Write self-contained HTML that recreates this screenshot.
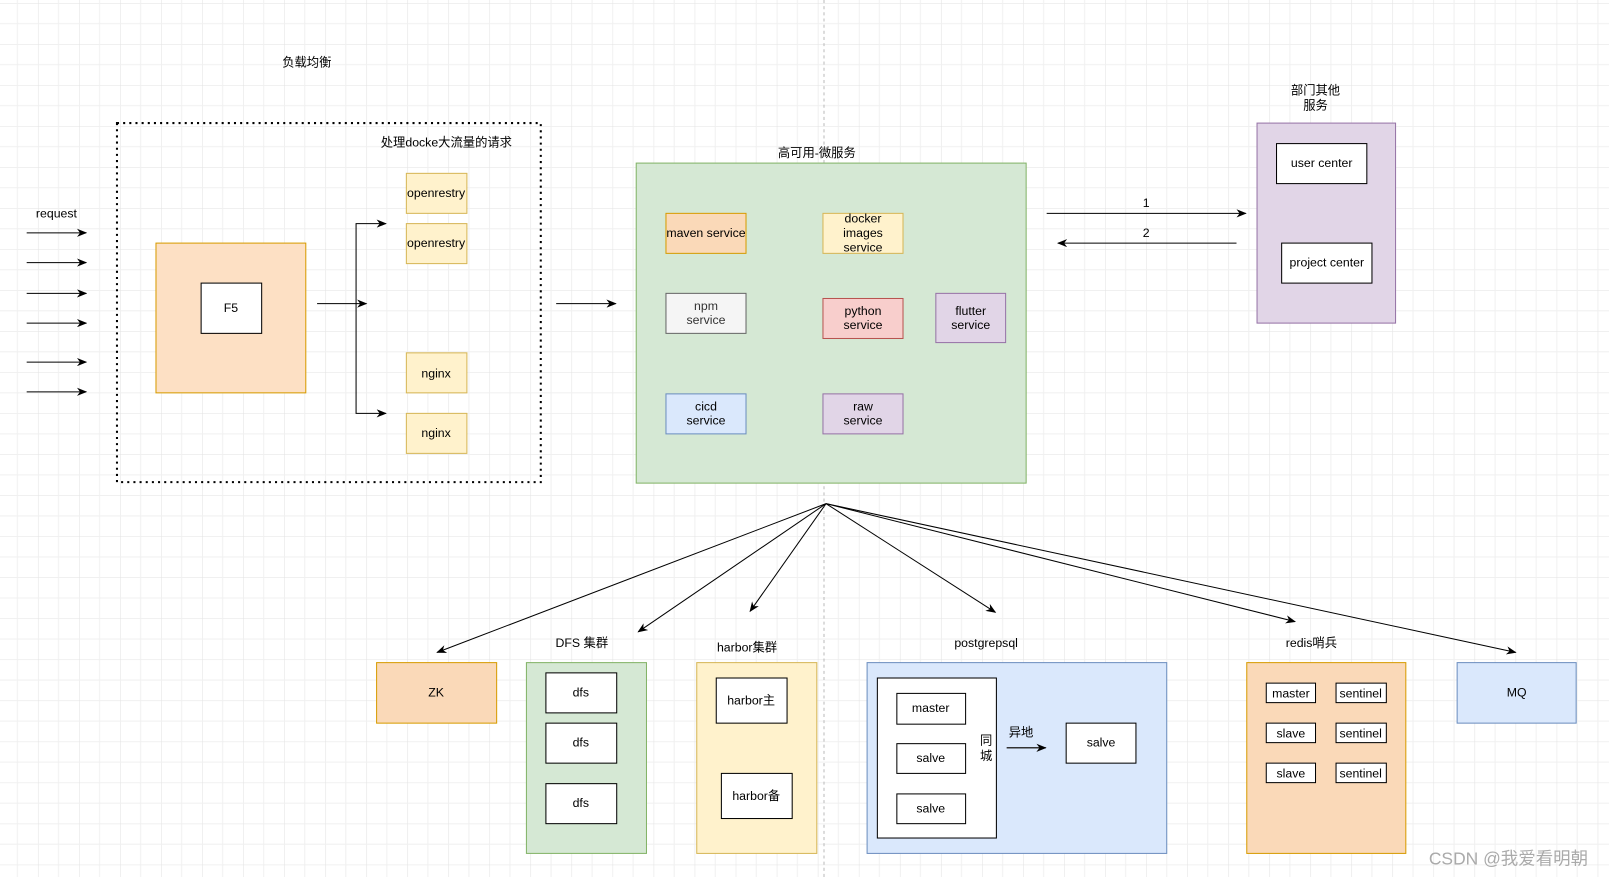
<!DOCTYPE html>
<html><head><meta charset="utf-8"><style>
body{margin:0;width:1609px;height:877px;overflow:hidden;background:#fff;}
svg{display:block;}
svg text{font-family:"Liberation Sans","Noto Sans CJK SC",sans-serif;font-size:12px;fill:#000;text-anchor:middle;}
</style></head><body>
<svg width="1609" height="877" viewBox="0 0 1568 855" preserveAspectRatio="none" xmlns="http://www.w3.org/2000/svg">
<defs>
<pattern id="g" x="37" y="3" width="40" height="40" patternUnits="userSpaceOnUse">
<path d="M0 0H40M0 0V40" stroke="#e2e2e2" stroke-width="1" fill="none"/>
<path d="M0 20H40M20 0V40" stroke="#f0f0f0" stroke-width="1" fill="none"/>
</pattern>
<marker id="a" markerWidth="10" markerHeight="8" refX="9" refY="4" orient="auto" markerUnits="userSpaceOnUse"><path d="M0 0L10 4L0 8L3 4Z" fill="#000"/></marker>
</defs>
<rect width="1568" height="855" fill="url(#g)"/>
<line x1="803" y1="0" x2="803" y2="855" stroke="#bbb" stroke-dasharray="3 3"/>

<text x="299" y="65">负载均衡</text>
<rect x="114" y="120" width="413" height="350" fill="none" stroke="#000" stroke-width="2" stroke-dasharray="2 4"/>
<text x="435" y="143">处理docke大流量的请求</text>
<text x="55" y="212">request</text>
<g stroke="#000" marker-end="url(#a)">
<line x1="26" y1="227" x2="84" y2="227"/><line x1="26" y1="256" x2="84" y2="256"/>
<line x1="26" y1="286" x2="84" y2="286"/><line x1="26" y1="315" x2="84" y2="315"/>
<line x1="26" y1="353" x2="84" y2="353"/><line x1="26" y1="382" x2="84" y2="382"/>
<line x1="309" y1="296" x2="357" y2="296"/>
<polyline points="347,296 347,218 376,218" fill="none"/>
<polyline points="347,296 347,403 376,403" fill="none"/>
<line x1="542" y1="296" x2="600" y2="296"/>
<line x1="1020" y1="208" x2="1214" y2="208"/>
<line x1="1205" y1="237" x2="1031" y2="237"/>
<line x1="805" y1="491" x2="426" y2="636"/>
<line x1="805" y1="491" x2="622" y2="616"/>
<line x1="805" y1="491" x2="731" y2="596"/>
<line x1="805" y1="491" x2="970" y2="597"/>
<line x1="805" y1="491" x2="1262" y2="606"/>
<line x1="805" y1="491" x2="1477" y2="636"/>
</g>
<rect x="152" y="237" width="146" height="146" fill="#fde0c4" stroke="#d79b00"/>
<rect x="196" y="276" width="59" height="49" fill="#fff" stroke="#000"/><text x="225" y="304">F5</text>
<g fill="#fff2cc" stroke="#d6b656">
<rect x="396" y="169" width="59" height="39"/><rect x="396" y="218" width="59" height="39"/>
<rect x="396" y="344" width="59" height="39"/><rect x="396" y="403" width="59" height="39"/></g>
<text x="425" y="192">openrestry</text><text x="425" y="241">openrestry</text>
<text x="425" y="368">nginx</text><text x="425" y="426">nginx</text>

<text x="796" y="153">高可用-微服务</text>
<rect x="620" y="159" width="380" height="312" fill="#d5e8d4" stroke="#82b366"/>
<rect x="649" y="208" width="78" height="39" fill="#fad9b8" stroke="#d79b00"/><text x="688" y="231">maven service</text>
<rect x="802" y="208" width="78" height="39" fill="#fff2cc" stroke="#d6b656"/><text x="841" y="217">docker</text><text x="841" y="231">images</text><text x="841" y="245">service</text>
<rect x="649" y="286" width="78" height="39" fill="#f5f5f5" stroke="#666"/><text x="688" y="302" style="fill:#333">npm</text><text x="688" y="316" style="fill:#333">service</text>
<rect x="802" y="291" width="78" height="39" fill="#f8cecc" stroke="#b85450"/><text x="841" y="307">python</text><text x="841" y="321">service</text>
<rect x="912" y="286" width="68" height="48" fill="#e1d5e7" stroke="#9673a6"/><text x="946" y="307">flutter</text><text x="946" y="321">service</text>
<rect x="649" y="384" width="78" height="39" fill="#dae8fc" stroke="#6c8ebf"/><text x="688" y="400">cicd</text><text x="688" y="414">service</text>
<rect x="802" y="384" width="78" height="39" fill="#e1d5e7" stroke="#9673a6"/><text x="841" y="400">raw</text><text x="841" y="414">service</text>

<text x="1117" y="202">1</text><text x="1117" y="231">2</text>
<text x="1282" y="92">部门其他</text><text x="1282" y="107">服务</text>
<rect x="1225" y="120" width="135" height="195" fill="#e1d5e7" stroke="#9673a6"/>
<rect x="1244" y="140" width="88" height="39" fill="#fff" stroke="#000"/><text x="1288" y="163">user center</text>
<rect x="1249" y="237" width="88" height="39" fill="#fff" stroke="#000"/><text x="1293" y="260">project center</text>

<rect x="367" y="646" width="117" height="59" fill="#fad9b8" stroke="#d79b00"/><text x="425" y="679">ZK</text>
<text x="567" y="631">DFS 集群</text>
<rect x="513" y="646" width="117" height="186" fill="#d5e8d4" stroke="#82b366"/>
<g fill="#fff" stroke="#000"><rect x="532" y="656" width="69" height="39"/><rect x="532" y="705" width="69" height="39"/><rect x="532" y="764" width="69" height="39"/></g>
<text x="566" y="679">dfs</text><text x="566" y="728">dfs</text><text x="566" y="787">dfs</text>
<text x="728" y="635">harbor集群</text>
<rect x="679" y="646" width="117" height="186" fill="#fff2cc" stroke="#d6b656"/>
<rect x="698" y="661" width="69" height="44" fill="#fff" stroke="#000"/><text x="732" y="687">harbor主</text>
<rect x="703" y="754" width="69" height="44" fill="#fff" stroke="#000"/><text x="737" y="780">harbor备</text>
<text x="961" y="631">postgrepsql</text>
<rect x="845" y="646" width="292" height="186" fill="#dae8fc" stroke="#6c8ebf"/>
<rect x="855" y="661" width="116" height="156" fill="#fff" stroke="#000"/>
<g fill="#fff" stroke="#000"><rect x="874" y="676" width="67" height="30"/><rect x="874" y="725" width="67" height="29"/><rect x="874" y="774" width="67" height="29"/><rect x="1039" y="705" width="68" height="39"/></g>
<text x="907" y="694">master</text><text x="907" y="743">salve</text><text x="907" y="792">salve</text><text x="1073" y="728">salve</text>
<text x="961" y="726">同</text><text x="961" y="741">城</text><text x="995" y="718">异地</text>
<line x1="981" y1="729" x2="1019" y2="729" stroke="#333" stroke-width="1.5" marker-end="url(#a)"/>
<text x="1278" y="631">redis哨兵</text>
<rect x="1215" y="646" width="155" height="186" fill="#fad9b8" stroke="#d79b00"/>
<g fill="#fff" stroke="#000"><rect x="1234" y="666" width="48" height="19"/><rect x="1234" y="705" width="48" height="19"/><rect x="1234" y="744" width="48" height="19"/>
<rect x="1302" y="666" width="49" height="19"/><rect x="1302" y="705" width="49" height="19"/><rect x="1302" y="744" width="49" height="19"/></g>
<text x="1258" y="680">master</text><text x="1258" y="719">slave</text><text x="1258" y="758">slave</text>
<text x="1326" y="680">sentinel</text><text x="1326" y="719">sentinel</text><text x="1326" y="758">sentinel</text>
<rect x="1420" y="646" width="116" height="59" fill="#dae8fc" stroke="#6c8ebf"/><text x="1478" y="679">MQ</text>
<text x="1470" y="843" style="font-size:17px;fill:#aaa">CSDN @我爱看明朝</text>
</svg>
</body></html>
